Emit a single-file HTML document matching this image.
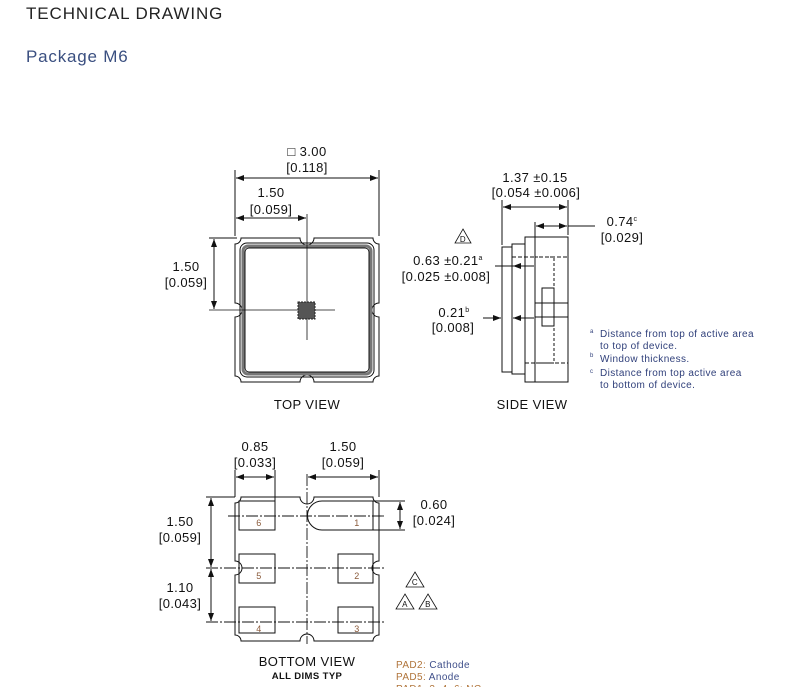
<!DOCTYPE html>
<html><head><meta charset="utf-8"><style>
html,body{margin:0;padding:0;background:#fff;width:788px;height:687px;overflow:hidden}
svg{display:block}
text{font-family:"Liberation Sans",sans-serif;fill:#111;letter-spacing:0.4px}
</style></head><body>
<svg width="788" height="687" viewBox="0 0 788 687" xmlns="http://www.w3.org/2000/svg">
<defs>
<marker id="ar" markerWidth="8" markerHeight="6" refX="8" refY="3" orient="auto-start-reverse" markerUnits="userSpaceOnUse"><path d="M0,0 L8,3 L0,6 z" fill="#111"/></marker>
</defs>
<text x="26" y="19" font-size="17" style="fill:#222;letter-spacing:0.9px">TECHNICAL DRAWING</text>
<text x="26" y="62" font-size="17" style="fill:#3a4f80;letter-spacing:0.8px">Package M6</text>

<g stroke="#111" fill="none" stroke-width="1">
<!-- TOP VIEW -->
<path d="M241,238 H300 A7,7 0 0 0 314,238 H373 A6,6 0 0 0 379,244 V303 A7,7 0 0 0 379,317 V376 A6,6 0 0 0 373,382 H314 A7,7 0 0 0 300,382 H241 A6,6 0 0 0 235,376 V317 A7,7 0 0 0 235,303 V244 A6,6 0 0 0 241,238 Z"/>
<rect x="240" y="243" width="134" height="134" rx="7"/>
<rect x="243" y="246" width="128" height="128" rx="5" stroke="#777" stroke-width="3"/>
<rect x="245" y="248" width="124" height="124" rx="4"/>
<line x1="235" y1="236" x2="235" y2="170"/>
<line x1="379" y1="236" x2="379" y2="170"/>
<line x1="236" y1="178" x2="378" y2="178" marker-start="url(#ar)" marker-end="url(#ar)"/>
<line x1="236" y1="218" x2="306" y2="218" marker-start="url(#ar)" marker-end="url(#ar)"/>
<line x1="307" y1="214" x2="307" y2="340" stroke-width="0.8"/>
<line x1="209" y1="310" x2="335" y2="310" stroke-width="0.8"/>
<line x1="209" y1="238" x2="237" y2="238"/>
<line x1="214" y1="239" x2="214" y2="309" marker-start="url(#ar)" marker-end="url(#ar)"/>
<rect x="298" y="302" width="17" height="17" fill="#555" stroke="#222" stroke-dasharray="2 1"/>

<!-- SIDE VIEW -->
<rect x="502" y="247" width="10" height="125"/>
<rect x="512" y="244" width="13" height="130"/>
<rect x="525" y="237" width="43" height="145"/>
<line x1="535" y1="222" x2="535" y2="382"/>
<line x1="539" y1="257" x2="568" y2="257" stroke-dasharray="4 2"/>
<line x1="512" y1="257" x2="535" y2="257" stroke-dasharray="4 2"/>
<rect x="535" y="257" width="19" height="106" stroke-dasharray="3 2"/>
<line x1="525" y1="363" x2="568" y2="363" stroke-dasharray="4 2"/>
<rect x="542" y="288" width="12" height="38"/>
<line x1="535" y1="303" x2="568" y2="303"/>
<line x1="535" y1="317" x2="568" y2="317"/>
<line x1="502" y1="245" x2="502" y2="200"/>
<line x1="568" y1="235" x2="568" y2="200"/>
<line x1="503" y1="207" x2="567" y2="207" marker-start="url(#ar)" marker-end="url(#ar)"/>
<line x1="536" y1="226" x2="567" y2="226" marker-start="url(#ar)" marker-end="url(#ar)"/>
<line x1="568" y1="226" x2="595" y2="226"/>
<line x1="495" y1="266" x2="534" y2="266"/>
<line x1="530" y1="266" x2="513" y2="266" marker-end="url(#ar)"/>
<line x1="483" y1="318" x2="501" y2="318" marker-end="url(#ar)"/>
<line x1="534" y1="318" x2="513" y2="318" marker-end="url(#ar)"/>
<path d="M463,229 L471,243 L455,243 Z" stroke-width="0.8"/>

<!-- BOTTOM VIEW -->
<path d="M241,497 H300 A7,7 0 0 0 314,497 H373 A6,6 0 0 0 379,503 V561 A7,7 0 0 0 379,575 V635 A6,6 0 0 0 373,641 H314 A7,7 0 0 0 300,641 H241 A6,6 0 0 0 235,635 V575 A7,7 0 0 0 235,561 V503 A6,6 0 0 0 241,497 Z"/>
<rect x="239" y="501" width="36" height="29"/>
<rect x="239" y="554" width="36" height="29"/>
<rect x="239" y="607" width="36" height="26"/>
<path d="M322,501 H373 V530 H322 A14.5,14.5 0 0 1 322,501 Z"/>
<rect x="338" y="554" width="35" height="29"/>
<rect x="338" y="607" width="35" height="26"/>
<g stroke-dasharray="12 2 2 2" stroke-width="0.9">
<line x1="228" y1="516" x2="386" y2="516"/>
<line x1="206" y1="568" x2="386" y2="568"/>
<line x1="206" y1="622" x2="386" y2="622"/>
<line x1="307" y1="474" x2="307" y2="644"/>
</g>
<line x1="206" y1="497" x2="235" y2="497"/>
<line x1="211" y1="498" x2="211" y2="567" marker-start="url(#ar)" marker-end="url(#ar)"/>
<line x1="211" y1="569" x2="211" y2="621" marker-start="url(#ar)" marker-end="url(#ar)"/>
<line x1="235" y1="497" x2="235" y2="470"/>
<line x1="275" y1="501" x2="275" y2="470"/>
<line x1="379" y1="497" x2="379" y2="470"/>
<line x1="236" y1="477" x2="274" y2="477" marker-start="url(#ar)" marker-end="url(#ar)"/>
<line x1="308" y1="477" x2="378" y2="477" marker-start="url(#ar)" marker-end="url(#ar)"/>
<line x1="373" y1="501" x2="405" y2="501"/>
<line x1="373" y1="530" x2="405" y2="530"/>
<line x1="400" y1="502" x2="400" y2="529" marker-start="url(#ar)" marker-end="url(#ar)"/>
<path d="M415,572 L424,587 L406,587 Z" stroke-width="0.8"/>
<path d="M405,594 L414,609 L396,609 Z" stroke-width="0.8"/>
<path d="M428,594 L437,609 L419,609 Z" stroke-width="0.8"/>
</g>

<g font-size="13" text-anchor="middle">
<text x="307" y="156">□ 3.00</text>
<text x="307" y="172">[0.118]</text>
<text x="271" y="197">1.50</text>
<text x="271" y="214">[0.059]</text>
<text x="186" y="271">1.50</text>
<text x="186" y="287">[0.059]</text>
<text x="307" y="409">TOP VIEW</text>
<text x="535" y="182">1.37 ±0.15</text>
<text x="536" y="197">[0.054 ±0.006]</text>
<text x="622" y="226">0.74<tspan font-size="7" dy="-5">c</tspan></text>
<text x="622" y="242">[0.029]</text>
<text x="448" y="265">0.63 ±0.21<tspan font-size="7" dy="-5">a</tspan></text>
<text x="446" y="281">[0.025 ±0.008]</text>
<text x="454" y="317">0.21<tspan font-size="7" dy="-5">b</tspan></text>
<text x="453" y="332">[0.008]</text>
<text x="532" y="409">SIDE VIEW</text>
<text x="255" y="451">0.85</text>
<text x="255" y="467">[0.033]</text>
<text x="343" y="451">1.50</text>
<text x="343" y="467">[0.059]</text>
<text x="434" y="509">0.60</text>
<text x="434" y="525">[0.024]</text>
<text x="180" y="526">1.50</text>
<text x="180" y="542">[0.059]</text>
<text x="180" y="592">1.10</text>
<text x="180" y="608">[0.043]</text>
<text x="307" y="666">BOTTOM VIEW</text>
<text x="307" y="679" font-size="9.5" font-weight="bold">ALL DIMS TYP</text>
</g>
<g font-size="8" text-anchor="middle" style="fill:#444">
<text x="463" y="242" font-size="8">D</text>
<text x="415" y="585" font-size="8">C</text>
<text x="405" y="607" font-size="8">A</text>
<text x="428" y="607" font-size="8">B</text>
</g>
<g font-size="9" text-anchor="middle">
<text x="259" y="526" style="fill:#8a5a3a">6</text>
<text x="259" y="579" style="fill:#8a5a3a">5</text>
<text x="259" y="632" style="fill:#8a5a3a">4</text>
<text x="357" y="526" style="fill:#8a5a3a">1</text>
<text x="357" y="579" style="fill:#8a5a3a">2</text>
<text x="357" y="632" style="fill:#8a5a3a">3</text>
</g>
<g font-size="10" style="fill:#2f3f7a">
<text x="590" y="333" font-size="6" style="fill:#2f3f7a">a</text>
<text x="600" y="337" style="fill:#2f3f7a">Distance from top of active area</text>
<text x="600" y="349" style="fill:#2f3f7a">to top of device.</text>
<text x="590" y="357" font-size="6" style="fill:#2f3f7a">b</text>
<text x="600" y="362" style="fill:#2f3f7a">Window thickness.</text>
<text x="590" y="373" font-size="6" style="fill:#2f3f7a">c</text>
<text x="600" y="376" style="fill:#2f3f7a">Distance from top active area</text>
<text x="600" y="388" style="fill:#2f3f7a">to bottom of device.</text>
</g>
<g font-size="10">
<text x="396" y="668" style="fill:#b0743a">PAD2: <tspan style="fill:#3f4f8a">Cathode</tspan></text>
<text x="396" y="680" style="fill:#b0743a">PAD5: <tspan style="fill:#3f4f8a">Anode</tspan></text>
<text x="396" y="692" style="fill:#b0743a">PAD1, 3, 4, 6: NC</text>
</g>
</svg>
</body></html>
